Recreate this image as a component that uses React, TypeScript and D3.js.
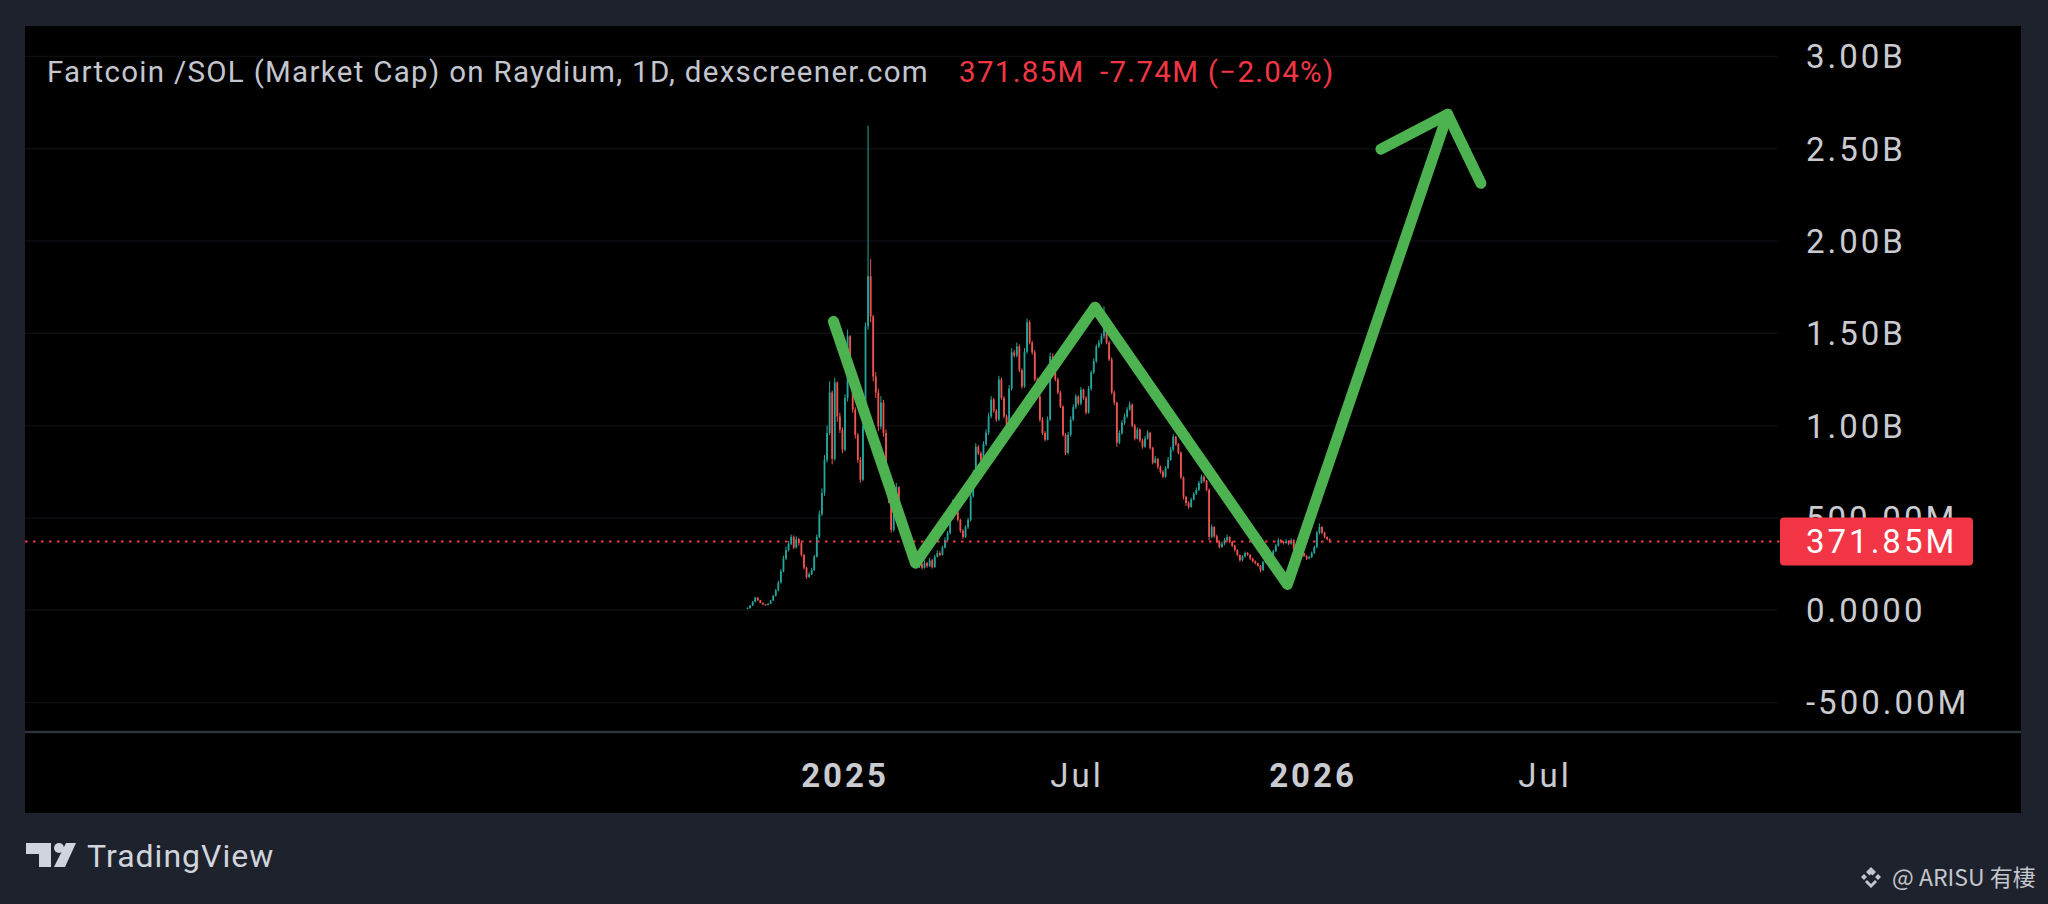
import React, { useEffect, useRef } from 'react';
import * as d3 from 'd3';

// --- data (market cap in millions USD) ---
const FIRST_CANDLE = '2024-10-17';
const CANDLE_STEP_DAYS = 2;
const FIRST_OPEN = 8;

const closes = [
  11, 25, 45, 68, 55, 40, 32, 28, 35, 52, 78, 108, 150, 210, 280, 326, 360, 397, 340, 385,
  364, 300, 230, 180, 195, 217, 290, 397, 520, 636, 815, 960, 1180, 820, 1234, 1050, 978, 870, 1150, 1484,
  1300, 1087, 950, 815, 707, 1000, 1538, 1810, 1592, 1266, 1180, 995, 1125, 960, 723, 600, 435, 560, 668, 451,
  420, 380, 350, 326, 290, 260, 234, 250, 230, 255, 240, 270, 234, 290, 310, 300, 340, 380, 418, 520,
  582, 530, 489, 430, 397, 450, 489, 620, 745, 886, 850, 815, 900, 962, 1050, 1141, 1080, 1033, 1250, 1150,
  1050, 978, 1200, 1397, 1380, 1429, 1300, 1212, 1400, 1560, 1450, 1397, 1250, 1158, 1033, 960, 924, 1033, 1375, 1300,
  1250, 1180, 1103, 950, 853, 950, 1033, 1100, 1158, 1120, 1195, 1150, 1071, 1200, 1288, 1350, 1429, 1450, 1484, 1560,
  1450, 1359, 1180, 1125, 908, 960, 1016, 1050, 1087, 1114, 1000, 930, 978, 920, 886, 930, 962, 880, 799, 820,
  777, 750, 723, 770, 815, 870, 940, 900, 853, 720, 614, 580, 560, 600, 630, 652, 690, 723, 700, 652,
  397, 451, 400, 370, 342, 360, 380, 397, 370, 350, 326, 300, 272, 290, 310, 300, 280, 265, 255, 240,
  217, 260, 310, 300, 288, 320, 350, 380, 370, 364, 375, 360, 380, 330, 288, 300, 310, 295, 280, 288,
  310, 342, 420, 451, 420, 397, 385, 371.85,
];

const highs = [
  15, 28, 50, 72, 70, 56, 42, 34, 38, 55, 82, 115, 160, 222, 295, 345, 375, 410, 405, 400,
  392, 370, 305, 235, 205, 230, 300, 410, 540, 660, 840, 1000, 1240, 1190, 1260, 1240, 1070, 990, 1170, 1520,
  1490, 1310, 1100, 960, 830, 1020, 1560, 2625, 1902, 1600, 1290, 1200, 1160, 1140, 980, 730, 620, 580, 690, 670,
  460, 430, 390, 360, 335, 295, 270, 265, 260, 270, 262, 285, 278, 300, 325, 320, 350, 395, 430, 540,
  600, 590, 540, 495, 440, 460, 500, 640, 760, 905, 895, 860, 915, 980, 1070, 1160, 1150, 1090, 1270, 1260,
  1160, 1060, 1220, 1420, 1410, 1450, 1440, 1310, 1420, 1580, 1570, 1460, 1410, 1260, 1170, 1045, 970, 1050, 1395, 1390,
  1310, 1260, 1190, 1110, 960, 965, 1050, 1115, 1170, 1165, 1210, 1200, 1160, 1215, 1300, 1365, 1440, 1465, 1500, 1647,
  1570, 1460, 1370, 1190, 1130, 975, 1030, 1065, 1100, 1130, 1120, 1010, 990, 985, 930, 945, 975, 965, 885, 835,
  825, 785, 760, 780, 830, 885, 955, 945, 905, 860, 725, 620, 590, 610, 640, 665, 700, 735, 730, 705,
  660, 465, 455, 410, 378, 372, 392, 410, 400, 375, 355, 330, 302, 298, 318, 315, 305, 285, 270, 258,
  245, 268, 318, 315, 305, 328, 358, 390, 385, 375, 385, 380, 390, 385, 335, 308, 318, 312, 298, 295,
  318, 350, 430, 470, 455, 425, 400, 390,
];

const lows = [
  6, 9, 22, 42, 50, 37, 29, 25, 26, 33, 50, 74, 102, 145, 205, 272, 318, 352, 330, 335,
  350, 290, 220, 170, 175, 190, 212, 285, 390, 510, 620, 800, 950, 790, 810, 1020, 960, 850, 860, 1130,
  1280, 1070, 930, 800, 690, 700, 990, 1520, 1560, 1240, 1150, 970, 980, 940, 710, 580, 420, 425, 545, 440,
  405, 365, 338, 312, 280, 250, 225, 228, 222, 225, 230, 235, 226, 230, 285, 292, 296, 335, 372, 410,
  510, 520, 480, 420, 385, 392, 440, 480, 610, 735, 840, 800, 810, 890, 950, 1040, 1070, 1020, 1025, 1140,
  1040, 965, 970, 1190, 1370, 1370, 1290, 1200, 1205, 1390, 1440, 1385, 1240, 1150, 1020, 950, 915, 920, 1025, 1290,
  1240, 1170, 1095, 940, 840, 845, 940, 1025, 1090, 1110, 1110, 1140, 1060, 1065, 1190, 1280, 1340, 1420, 1440, 1470,
  1440, 1350, 1170, 1110, 886, 900, 950, 1005, 1040, 1080, 990, 920, 925, 910, 875, 880, 925, 870, 790, 795,
  765, 740, 715, 718, 765, 810, 860, 890, 845, 710, 600, 565, 550, 555, 595, 625, 645, 685, 690, 645,
  380, 390, 392, 362, 335, 338, 352, 372, 362, 342, 318, 292, 262, 265, 285, 294, 272, 258, 248, 235,
  205, 212, 255, 292, 280, 282, 315, 345, 362, 356, 360, 352, 355, 322, 280, 282, 298, 288, 272, 276,
  282, 305, 335, 410, 412, 390, 378, 365,
];

const LAST_PRICE = 371.85;

const priceTicks = [-500, 0, 500, 1000, 1500, 2000, 2500, 3000];
const priceTickLabels = ['-500.00M', '0.0000', '500.00M', '1.00B', '1.50B', '2.00B', '2.50B', '3.00B'];

const timeTicks = ['2025-01-01', '2025-07-01', '2026-01-01', '2026-07-01'];
const timeTickLabels = ['2025', 'Jul', '2026', 'Jul'];
const timeTickBold = [true, false, true, false];

// hand-drawn W + arrow annotation
const zigzagDates = ['2024-12-23', '2025-02-25', '2025-07-15', '2025-12-12', '2026-04-16'];
const zigzagValues = [1565, 255, 1642, 140, 2687];
const arrowHeadDates = ['2026-02-23', '2026-04-16', '2026-05-12'];
const arrowHeadValues = [2498, 2687, 2313];

const TITLE = 'Fartcoin /SOL (Market Cap) on Raydium, 1D, dexscreener.com';
const TITLE_PRICE = '371.85M';
const TITLE_CHANGE = '-7.74M (\u22122.04%)';

const W = 2048;
const H = 904;

const App: React.FC = () => {
  const svgRef = useRef<SVGSVGElement>(null);

  useEffect(() => {
    if (!svgRef.current) return;
    const svg = d3.select(svgRef.current);
    svg.selectAll('*').remove();

    const parse = d3.utcParse('%Y-%m-%d');
    const pane = { left: 25, right: 1778, top: 26, bottom: 732 };
    const panelRight = 2021;
    const panelBottom = 813;

    const x = d3.scaleUtc()
      .domain([parse('2025-01-01')!, parse('2026-01-01')!])
      .range([845, 1313]);
    const y = d3.scaleLinear().domain([-500, 3000]).range([702.5, 56.5]);

    const up = '#26a69a';
    const down = '#ef5350';
    const red = '#f23645';
    const textCol = '#c9cbd1';
    const font = 'Roboto, "Liberation Sans", sans-serif';

    // page + panel
    svg.append('rect').attr('width', W).attr('height', H).attr('fill', '#1e222d');
    svg.append('rect')
      .attr('x', pane.left).attr('y', pane.top)
      .attr('width', panelRight - pane.left).attr('height', panelBottom - pane.top)
      .attr('fill', '#000');

    const defs = svg.append('defs');
    defs.append('clipPath').attr('id', 'pane-clip')
      .append('rect')
      .attr('x', pane.left).attr('y', pane.top)
      .attr('width', pane.right - pane.left).attr('height', pane.bottom - pane.top);

    // grid (very faint)
    svg.append('g').selectAll('line')
      .data(priceTicks)
      .join('line')
      .attr('x1', pane.left).attr('x2', pane.right)
      .attr('y1', d => y(d)).attr('y2', d => y(d))
      .attr('stroke', '#0d0e12').attr('stroke-width', 1.5);

    // time axis separator
    svg.append('line')
      .attr('x1', pane.left).attr('x2', panelRight)
      .attr('y1', pane.bottom).attr('y2', pane.bottom)
      .attr('stroke', '#2f333d').attr('stroke-width', 2.5);

    // candles
    const start = parse(FIRST_CANDLE)!;
    const candles = closes.map((c, i) => ({
      date: d3.utcDay.offset(start, i * CANDLE_STEP_DAYS),
      open: i === 0 ? FIRST_OPEN : closes[i - 1],
      close: c,
      high: highs[i],
      low: lows[i],
    }));

    const cg = svg.append('g').attr('clip-path', 'url(#pane-clip)');
    cg.selectAll('line.wick')
      .data(candles)
      .join('line')
      .attr('class', 'wick')
      .attr('x1', d => x(d.date)).attr('x2', d => x(d.date))
      .attr('y1', d => y(d.high)).attr('y2', d => y(d.low))
      .attr('stroke', d => (d.close >= d.open ? up : down))
      .attr('stroke-width', 1);
    cg.selectAll('rect.body')
      .data(candles)
      .join('rect')
      .attr('class', 'body')
      .attr('x', d => x(d.date) - 0.9)
      .attr('width', 1.8)
      .attr('y', d => y(Math.max(d.open, d.close)))
      .attr('height', d => Math.max(1, Math.abs(y(d.open) - y(d.close))))
      .attr('fill', d => (d.close >= d.open ? up : down));

    // last price dotted line
    svg.append('line')
      .attr('x1', pane.left).attr('x2', 1780)
      .attr('y1', y(LAST_PRICE)).attr('y2', y(LAST_PRICE))
      .attr('stroke', red).attr('stroke-width', 2)
      .attr('stroke-dasharray', '2.5 5.5');

    // annotation
    const line = d3.line<[Date, number]>().x(d => x(d[0])).y(d => y(d[1]));
    const green = '#4cb350';
    svg.append('path')
      .attr('d', line(zigzagDates.map((d, i) => [parse(d)!, zigzagValues[i]] as [Date, number])))
      .attr('fill', 'none').attr('stroke', green).attr('stroke-width', 11)
      .attr('stroke-linecap', 'round').attr('stroke-linejoin', 'round');
    svg.append('path')
      .attr('d', line(arrowHeadDates.map((d, i) => [parse(d)!, arrowHeadValues[i]] as [Date, number])))
      .attr('fill', 'none').attr('stroke', green).attr('stroke-width', 11)
      .attr('stroke-linecap', 'round').attr('stroke-linejoin', 'round');

    // price axis
    svg.append('g').selectAll('text')
      .data(priceTicks)
      .join('text')
      .attr('x', 1806)
      .attr('y', d => y(d))
      .attr('dy', '0.36em')
      .attr('fill', textCol)
      .style('font-family', font)
      .style('font-size', '33px')
      .style('letter-spacing', '3px')
      .text((d, i) => priceTickLabels[i]);

    // last price tag (covers most of the 500.00M label, as in the original)
    const ly = y(LAST_PRICE);
    svg.append('rect')
      .attr('x', 1780).attr('y', ly - 24)
      .attr('width', 193).attr('height', 48)
      .attr('rx', 4).attr('fill', red);
    svg.append('text')
      .attr('x', 1806).attr('y', ly).attr('dy', '0.36em')
      .attr('fill', '#ffffff')
      .style('font-family', font)
      .style('font-size', '33px')
      .style('letter-spacing', '3px')
      .text(TITLE_PRICE);

    // time axis
    svg.append('g').selectAll('text')
      .data(timeTicks)
      .join('text')
      .attr('x', d => x(parse(d)!))
      .attr('y', 775)
      .attr('dy', '0.36em')
      .attr('text-anchor', 'middle')
      .attr('fill', textCol)
      .style('font-family', font)
      .style('font-size', '33px')
      .style('letter-spacing', '3px')
      .style('font-weight', (d, i) => (timeTickBold[i] ? '700' : '400'))
      .text((d, i) => timeTickLabels[i]);

    // legend / title
    const titleStyle = (t: d3.Selection<SVGTextElement, unknown, null, undefined>) =>
      t.style('font-family', font).style('font-size', '29.5px').style('letter-spacing', '1.3px');
    svg.append('text')
      .attr('x', 47).attr('y', 82)
      .attr('fill', '#c3c6ce')
      .call(titleStyle)
      .text(TITLE);
    svg.append('text')
      .attr('x', 959).attr('y', 82)
      .attr('fill', red)
      .call(titleStyle)
      .text(TITLE_PRICE);
    svg.append('text')
      .attr('x', 1100).attr('y', 82)
      .attr('fill', red)
      .call(titleStyle)
      .text(TITLE_CHANGE);

    // TradingView logo
    const logo = svg.append('g').attr('fill', '#d1d4dc');
    logo.append('path').attr('d', 'M26,843 H51 V867 H39 V854 H26 Z');
    logo.append('circle').attr('cx', 59).attr('cy', 848).attr('r', 5);
    logo.append('path').attr('d', 'M66,843 H76 L65,867 H54 Z');
    svg.append('text')
      .attr('x', 87).attr('y', 867)
      .attr('fill', '#d1d4dc')
      .style('font-family', font)
      .style('font-size', '32px')
      .style('letter-spacing', '1px')
      .text('TradingView');

    // watermark
    const wm = svg.append('g').attr('fill', '#c4c6cc');
    const cx = 1871, cy = 877;
    wm.append('path').attr('d', `M${cx},${cy - 10} l5,5 l-5,5 l-5,-5 Z`);
    wm.append('path').attr('d', `M${cx},${cy - 3} l3,3 l-3,3 l-3,-3 Z`).attr('fill', '#1e222d');
    wm.append('path').attr('d', `M${cx - 10},${cy} l3,-3 l3,3 l-3,3 Z`);
    wm.append('path').attr('d', `M${cx + 10},${cy} l-3,-3 l-3,3 l3,3 Z`);
    wm.append('path').attr('d', `M${cx},${cy + 11} l-6,-6 l2,-2 l4,4 l4,-4 l2,2 Z`);
    svg.append('text')
      .attr('x', 1892).attr('y', 886)
      .attr('fill', '#c4c6cc')
      .style('font-family', '"Noto Sans CJK SC", "Noto Sans", sans-serif')
      .style('font-size', '23px')
      .text('@ ARISU 有棲');
  }, []);

  return (
    <svg
      ref={svgRef}
      width={W}
      height={H}
      style={{ position: 'absolute', left: 0, top: 0, display: 'block' }}
    />
  );
};

export default App;
